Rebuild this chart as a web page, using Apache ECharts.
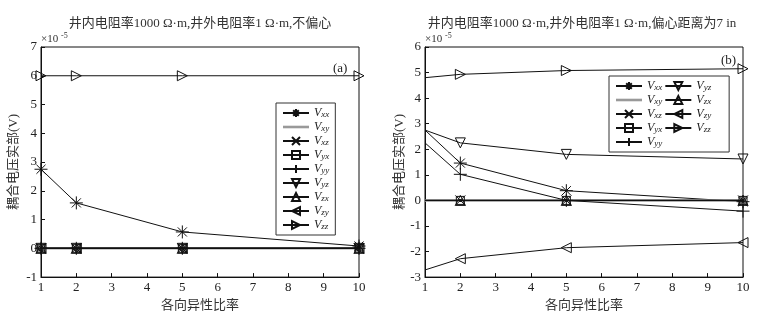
<!DOCTYPE html>
<html>
<head>
<meta charset="utf-8">
<script src="https://cdn.jsdelivr.net/npm/echarts@6/dist/echarts.min.js"></script>
<style>
html, body { margin: 0; padding: 0; background: #fff; }
#main { width: 761px; height: 317px; }
</style>
</head>
<body>
<div id="main"></div>
<script>
// 各向异性比率
const ratio = [1, 2, 5, 10];
const names = ['Vxx', 'Vxy', 'Vxz', 'Vyx', 'Vyy', 'Vyz', 'Vzx', 'Vzy', 'Vzz'];

// (a) 不偏心
const aVxx = [2.75, 1.58, 0.57, 0.08];
const aVxy = [0, 0, 0, 0];
const aVxz = [0, 0, 0, 0];
const aVyx = [0, 0, 0, 0];
const aVyy = [0, 0, 0, 0];
const aVyz = [0, 0, 0, 0];
const aVzx = [0, 0, 0, 0];
const aVzy = [0, 0, 0, 0];
const aVzz = [6, 6, 6, 6];

// (b) 偏心距离为7 in
const bVxx = [2.75, 1.46, 0.38, -0.05];
const bVxy = [0, 0, 0, 0];
const bVxz = [0, 0, 0, 0];
const bVyx = [0, 0, 0, 0];
const bVyy = [2.25, 1.02, 0.0, -0.42];
const bVyz = [2.75, 2.25, 1.8, 1.62];
const bVzx = [0, 0, 0, 0];
const bVzy = [-2.72, -2.28, -1.85, -1.65];
const bVzz = [4.8, 4.93, 5.08, 5.15];

const yRangeA = [-1, 7];
const yRangeB = [-3, 6];

const serif = 'Liberation Serif, Noto Sans CJK SC';

// marker shapes, stroked like matlab markers
const marks = {
	Vxx: { symbol: 'path://M5,0L5,10M0,5L10,5M1.5,1.5L8.5,8.5M8.5,1.5L1.5,8.5', size: 13 },
	Vxy: { symbol: 'circle', size: 3 },
	Vxz: { symbol: 'path://M0,0L10,10M10,0L0,10', size: 10 },
	Vyx: { symbol: 'rect', size: 8 },
	Vyy: { symbol: 'path://M5,0L5,10M0,5L10,5', size: 13 },
	Vyz: { symbol: 'path://M0,0L10,0L5,9Z', size: 10 },
	Vzx: { symbol: 'path://M5,0L10,9L0,9Z', size: 10 },
	Vzy: { symbol: 'path://M10,0L10,10L1,5Z', size: 10 },
	Vzz: { symbol: 'path://M0,0L0,10L9,5Z', size: 10 }
};

const mk = (name, vals, idx) => {
	let m = marks[name];
	let data = vals.map((v, i) => {
		let p = { value: [ratio[i], v] };
		if (idx === 1 && i === 0) p.symbol = 'none';
		return p;
	});
	let isXy = name === 'Vxy';
	return {
		name: name,
		type: 'line',
		xAxisIndex: idx,
		yAxisIndex: idx,
		data: data,
		symbol: m.symbol,
		symbolSize: m.size,
		showAllSymbol: true,
		clip: false,
		animation: false,
		lineStyle: { color: isXy ? '#999' : '#111', width: isXy ? 2.5 : 1 },
		itemStyle: {
			color: isXy ? '#111' : 'rgba(0,0,0,0)',
			borderColor: '#111',
			borderWidth: isXy ? 0 : 1
		},
		emphasis: { disabled: true }
	};
};

const aVals = [aVxx, aVxy, aVxz, aVyx, aVyy, aVyz, aVzx, aVzy, aVzz];
const bVals = [bVxx, bVxy, bVxz, bVyx, bVyy, bVyz, bVzx, bVzy, bVzz];

let series = [];
names.forEach((n, i) => series.push(mk(n, aVals[i], 0)));
names.forEach((n, i) => series.push(mk(n, bVals[i], 1)));

const legendData = names.map(n => n === 'Vxy'
	? { name: n, icon: 'path://M0,0L30,0L30,3L0,3Z', itemStyle: { color: '#999', borderWidth: 0 } }
	: { name: n });

const legendText = {
	fontFamily: serif,
	fontSize: 12,
	color: '#222',
	rich: {
		v: { fontFamily: serif, fontStyle: 'italic', fontSize: 12, lineHeight: 12, color: '#222' },
		s: { fontFamily: serif, fontStyle: 'italic', fontSize: 9, lineHeight: 12, verticalAlign: 'bottom', color: '#222' },
		p: { width: 10 }
	}
};

const legendBase = {
	data: legendData,
	orient: 'vertical',
	itemWidth: 26,
	itemHeight: 10,
	itemGap: 2,
	padding: [4, 6, 4, 6],
	borderColor: '#333',
	borderWidth: 1,
	backgroundColor: '#fff',
	selectedMode: false,
	textStyle: legendText
};

const xAxisBase = (idx) => ({
	type: 'value',
	gridIndex: idx,
	min: 1,
	max: 10,
	interval: 1,
	name: '各向异性比率',
	nameLocation: 'middle',
	nameGap: 18,
	nameTextStyle: { fontFamily: serif, fontSize: 13, color: '#333' },
	axisLine: { onZero: false, lineStyle: { color: '#111' } },
	axisTick: { inside: true, length: 4, lineStyle: { color: '#111' } },
	axisLabel: { fontFamily: serif, fontSize: 13, color: '#222', margin: 4 },
	splitLine: { show: false }
});
const yAxisBase = (idx, r, gap) => ({
	type: 'value',
	gridIndex: idx,
	min: r[0],
	max: r[1],
	interval: 1,
	name: '耦合电压实部(V)',
	nameLocation: 'middle',
	nameRotate: 90,
	nameGap: gap,
	nameTextStyle: { fontFamily: serif, fontSize: 13, color: '#333' },
	axisLine: { onZero: false, lineStyle: { color: '#111' } },
	axisTick: { inside: true, length: 4, lineStyle: { color: '#111' } },
	axisLabel: { fontFamily: serif, fontSize: 13, color: '#222', margin: 4 },
	splitLine: { show: false }
});

let chart = echarts.init(document.getElementById('main'));
let option = {
	backgroundColor: '#fff',
	animation: false,
	grid: [
		{ left: 41, top: 47, width: 318, height: 233, show: true, borderColor: '#111', borderWidth: 1 },
		{ left: 425, top: 47, width: 318, height: 236, show: true, borderColor: '#111', borderWidth: 1 }
	],
	xAxis: [xAxisBase(0), xAxisBase(1)],
	yAxis: [yAxisBase(0, yRangeA, 21), yAxisBase(1, yRangeB, 16)],
	legend: [
		Object.assign({}, legendBase, {
			left: 276, top: 103,
			formatter: n => '{v|V}{s|' + n.slice(1) + '}'
		}),
		Object.assign({}, legendBase, {
			left: 609, top: 76, height: 76,
			padding: [4, 18, 4, 6],
			formatter: n => '{v|V}{s|' + n.slice(1) + '}{p|}'
		})
	],
	graphic: [
		{ type: 'text', x: 200, y: 17, style: { text: '井内电阻率1000 Ω·m,井外电阻率1 Ω·m,不偏心', font: '13px ' + serif, fill: '#333', textAlign: 'center' } },
		{ type: 'text', x: 582, y: 17, style: { text: '井内电阻率1000 Ω·m,井外电阻率1 Ω·m,偏心距离为7 in', font: '13px ' + serif, fill: '#333', textAlign: 'center' } },
		{ type: 'text', x: 41, y: 34, style: { text: '×10', font: '11px ' + serif, fill: '#333' } },
		{ type: 'text', x: 61, y: 32, style: { text: '-5', font: '8px ' + serif, fill: '#333' } },
		{ type: 'text', x: 425, y: 34, style: { text: '×10', font: '11px ' + serif, fill: '#333' } },
		{ type: 'text', x: 445, y: 32, style: { text: '-5', font: '8px ' + serif, fill: '#333' } },
		{ type: 'text', x: 333, y: 62, style: { text: '(a)', font: '13px ' + serif, fill: '#222' } },
		{ type: 'text', x: 721, y: 54, style: { text: '(b)', font: '13px ' + serif, fill: '#222' } }
	],
	series: series
};
chart.setOption(option);
</script>
</body>
</html>
